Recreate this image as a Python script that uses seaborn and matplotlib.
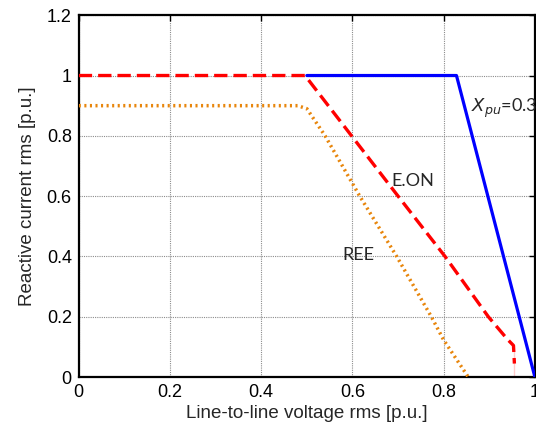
import matplotlib
matplotlib.use("Agg")
import matplotlib.pyplot as plt
import seaborn as sns
import pandas as pd

# Data
xpu_v = [0.5, 0.828, 1.0]
xpu_i = [1.0, 1.0, 0.0]

eon_v = [0.0, 0.496, 0.598, 0.7, 0.803, 0.898, 0.94, 0.953, 0.955, 0.955]
eon_i = [1.0, 1.0, 0.8, 0.6, 0.4, 0.2, 0.125, 0.105, 0.09, 0.0]

ree_v = [0.0, 0.48, 0.5, 0.54, 0.616, 0.697, 0.773, 0.8, 0.854]
ree_i = [0.9, 0.9, 0.89, 0.8, 0.6, 0.4, 0.2, 0.123, 0.0]

xticks = [0, 0.2, 0.4, 0.6, 0.8, 1]
yticks = [0, 0.2, 0.4, 0.6, 0.8, 1, 1.2]
xtick_labels = ["0", "0.2", "0.4", "0.6", "0.8", "1"]
ytick_labels = ["0", "0.2", "0.4", "0.6", "0.8", "1", "1.2"]

sns.set_theme(style="white")
plt.rcParams['font.family'] = ['Liberation Sans', 'DejaVu Sans']

fig = plt.figure(figsize=(5.36, 4.34), dpi=100)
ax = fig.add_axes([0.147, 0.131, 0.851, 0.834])

df_x = pd.DataFrame({"v": xpu_v, "i": xpu_i})
df_e = pd.DataFrame({"v": eon_v, "i": eon_i})
df_r = pd.DataFrame({"v": ree_v, "i": ree_i})

sns.lineplot(data=df_x, x="v", y="i", ax=ax, color="#0000ff", lw=2.3, sort=False, zorder=3)
sns.lineplot(data=df_r, x="v", y="i", ax=ax, color="#e8860c", lw=2.5, sort=False, zorder=4)
ax.lines[-1].set_linestyle((0, (0.6, 1.0)))
sns.lineplot(data=df_e, x="v", y="i", ax=ax, color="#ff0000", lw=2.4, sort=False, zorder=5)
ax.lines[-1].set_linestyle((0, (4.0, 1.8)))

ax.set_xlim(0, 1)
ax.set_ylim(0, 1.2)
ax.set_xticks(xticks)
ax.set_xticklabels(xtick_labels)
ax.set_yticks(yticks)
ax.set_yticklabels(ytick_labels)
ax.grid(True, color="#8c8c8c", linestyle=(0, (1, 1)), linewidth=0.8)
ax.tick_params(direction="in", length=4, width=1, top=True, right=True,
               labelsize=13, colors="black", pad=5)
for s in ax.spines.values():
    s.set_color("black")
    s.set_linewidth(1.6)

ax.set_xlabel("Line-to-line voltage rms [p.u.]", fontsize=13.5, labelpad=3)
ax.set_ylabel("Reactive current rms [p.u.]", fontsize=13.5, labelpad=8)

afont = ['Lato', 'DejaVu Sans']
ax.text(0.86, 0.88, r"$\mathit{X}_{\mathit{pu}}$=0.3", fontsize=13, family=afont)
ax.text(0.686, 0.635, "E.ON", fontsize=13, family=afont)
ax.text(0.577, 0.39, "REE", fontsize=13, family=afont)

fig.savefig("out.png", dpi=100)
